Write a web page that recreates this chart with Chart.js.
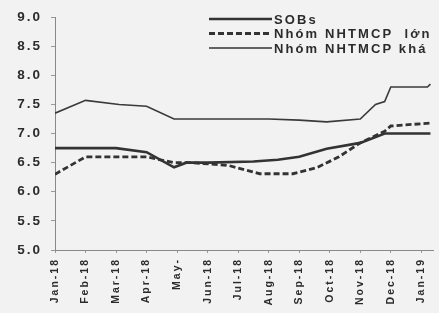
<!DOCTYPE html>
<html>
<head>
<meta charset="utf-8">
<script src="https://cdn.jsdelivr.net/npm/chart.js@4.4.0/dist/chart.umd.min.js"></script>
<style>
    html, body { margin: 0; padding: 0; background: #f2f2f2; }
    #wrap { width: 439px; height: 313px; }
</style>
</head>
<body>
<div id="wrap"><canvas id="lsChart"></canvas></div>
<script>
// nhãn tháng trên trục hoành
const monthLabels = ['Jan-18', 'Feb-18', 'Mar-18', 'Apr-18', 'May-', 'Jun-18', 'Jul-18',
    'Aug-18', 'Sep-18', 'Oct-18', 'Nov-18', 'Dec-18', 'Jan-19'];

// vị trí (theo tháng) và giá trị ước lượng của từng nhóm
const sobsX = [0, 2, 3.0, 3.9, 4.3, 5, 6.5, 7.3, 8.0, 8.9, 10, 10.8, 12.3];
const sobsY = [6.75, 6.75, 6.68, 6.42, 6.5, 6.5, 6.52, 6.55, 6.6, 6.74, 6.84, 7.0, 7.0];

const lonX = [0, 1.0, 3.0, 3.9, 4.5, 5.7, 6.7, 7.8, 8.6, 9.3, 10, 10.8, 11.0, 12.3];
const lonY = [6.3, 6.6, 6.6, 6.5, 6.5, 6.45, 6.31, 6.31, 6.42, 6.6, 6.84, 7.04, 7.13, 7.18];

const khaX = [0, 1.0, 2.1, 3.0, 3.9, 5, 7, 8.0, 8.9, 10.0, 10.5, 10.8, 11.0, 12.2, 12.3];
const khaY = [7.35, 7.57, 7.5, 7.47, 7.25, 7.25, 7.25, 7.23, 7.2, 7.25, 7.5, 7.55, 7.8, 7.8, 7.85];

const seriesNames = ['SOBs', 'Nhóm NHTMCP  lớn', 'Nhóm NHTMCP khá'];

const toPoints = (xs, ys) => xs.map((x, i) => ({ x: x, y: ys[i] }));

const textColor = '#2b2b2b';
const lineColor = '#333';

// chữ trong ảnh gốc giãn cách rộng
const spacingPlugin = {
    id: 'letterSpacing',
    beforeLayout(chart) { chart.ctx.letterSpacing = '2px'; },
    beforeDraw(chart) { chart.ctx.letterSpacing = '2px'; }
};

// chú giải vẽ tay, nằm trong vùng biểu đồ góc trên phải
const legendPlugin = {
    id: 'customLegend',
    afterDraw(chart) {
        const ctx = chart.ctx;
        const styles = [
            { width: 2.6, dash: [] },
            { width: 2.8, dash: [6, 3] },
            { width: 1.6, dash: [] }
        ];
        ctx.save();
        ctx.font = "bold 13px 'Liberation Sans', Arial, sans-serif";
        ctx.letterSpacing = '2.1px';
        ctx.fillStyle = textColor;
        ctx.textBaseline = 'middle';
        seriesNames.forEach((name, i) => {
            const y = 19 + i * 14.5;
            ctx.strokeStyle = lineColor;
            ctx.lineWidth = styles[i].width;
            ctx.setLineDash(styles[i].dash);
            ctx.beginPath();
            ctx.moveTo(209, y);
            ctx.lineTo(272, y);
            ctx.stroke();
            ctx.fillText(name, 274, y + 1);
        });
        ctx.restore();
    }
};

new Chart(document.getElementById('lsChart'), {
    type: 'line',
    data: {
        datasets: [{
            label: seriesNames[0],
            data: toPoints(sobsX, sobsY),
            borderColor: lineColor,
            borderWidth: 2.6,
            pointRadius: 0,
            tension: 0
        }, {
            label: seriesNames[1],
            data: toPoints(lonX, lonY),
            borderColor: lineColor,
            borderWidth: 2.8,
            borderDash: [6, 3],
            pointRadius: 0,
            tension: 0
        }, {
            label: seriesNames[2],
            data: toPoints(khaX, khaY),
            borderColor: '#3a3a3a',
            borderWidth: 1.6,
            pointRadius: 0,
            tension: 0
        }]
    },
    options: {
        responsive: true,
        maintainAspectRatio: false,
        animation: false,
        layout: { padding: { top: 14, right: 3, left: 0, bottom: 0 } },
        plugins: {
            legend: { display: false },
            tooltip: { enabled: false }
        },
        scales: {
            x: {
                type: 'linear',
                min: 0,
                max: 12.4,
                afterFit: (scale) => { scale.height = 63; },
                afterBuildTicks: (scale) => {
                    scale.ticks = monthLabels.map((_, i) => ({ value: i }));
                },
                border: { color: '#888', width: 1 },
                grid: {
                    display: true,
                    drawOnChartArea: false,
                    drawTicks: true,
                    tickLength: 3,
                    color: '#999'
                },
                ticks: {
                    minRotation: 90,
                    maxRotation: 90,
                    padding: 5,
                    color: textColor,
                    font: { family: "'Liberation Sans', Arial, sans-serif", size: 10.5, weight: 'bold' },
                    callback: (value) => monthLabels[value] ?? ''
                }
            },
            y: {
                min: 5,
                max: 9,
                afterFit: (scale) => { scale.width = 55; },
                border: { color: '#888', width: 1 },
                grid: {
                    display: true,
                    drawOnChartArea: false,
                    drawTicks: true,
                    tickLength: 4,
                    color: '#999'
                },
                ticks: {
                    stepSize: 0.5,
                    padding: 9,
                    color: textColor,
                    font: { family: "'Liberation Sans', Arial, sans-serif", size: 13.5, weight: 'bold' },
                    callback: (value) => value.toFixed(1)
                }
            }
        }
    },
    plugins: [spacingPlugin, legendPlugin]
});
</script>
</body>
</html>
